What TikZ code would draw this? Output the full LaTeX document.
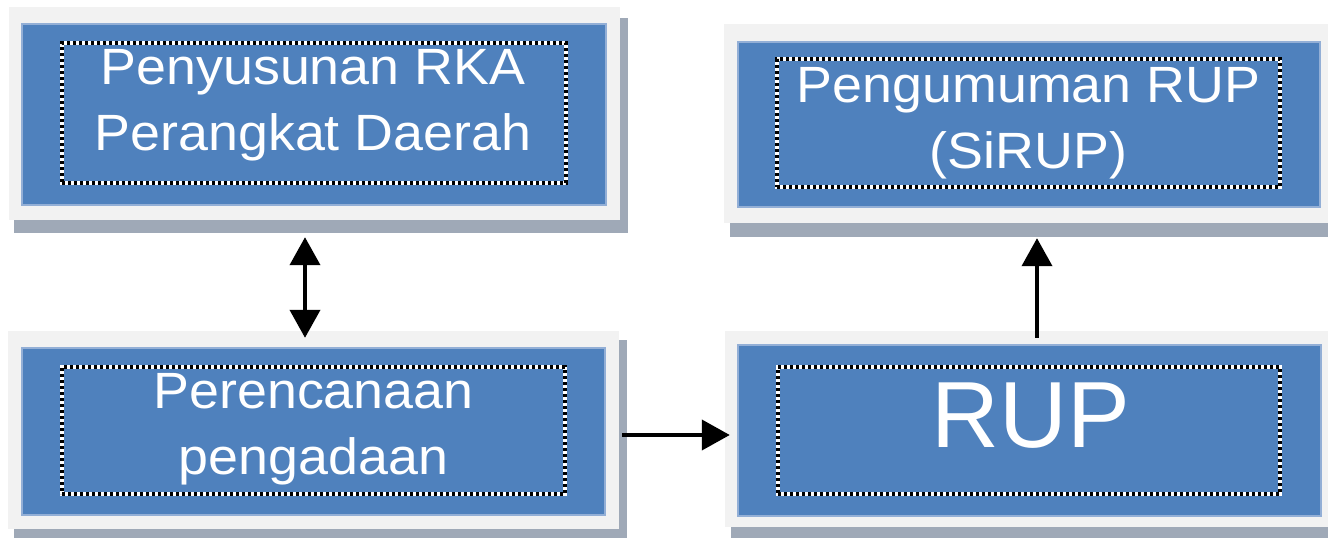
\documentclass[tikz,border=0pt]{standalone}
\usepackage{fontspec}
\setmainfont{Liberation Sans}
\newfontfamily\boxfont[FakeStretch=1.055]{Liberation Sans}
\usetikzlibrary{arrows.meta,calc}
\definecolor{boxblue}{HTML}{4F81BD}
\definecolor{framegray}{HTML}{F2F2F2}
\definecolor{shadowgray}{HTML}{9FA9B7}
\definecolor{blueedge}{HTML}{93AFD6}
\begin{document}
\begin{tikzpicture}[x=1pt,y=-1pt,
  framebox/.style={rectangle, fill=framegray, draw=none, inner sep=0pt},
  bluebox/.style={rectangle, fill=boxblue, draw=blueedge, line width=1.5pt, inner sep=0pt},
  dotbox/.style={rectangle, inner sep=0pt, draw=white, line width=3.5pt,
    postaction={draw=black, line width=3.5pt, dash pattern=on 3pt off 3pt}},
  boxtext/.style={text=white, inner sep=0pt, align=center, font=\boxfont\fontsize{51}{66}\selectfont},
  bigtext/.style={text=white, inner sep=0pt, align=center, font=\fontsize{94}{100}\selectfont},
  conn/.style={line width=4pt, black},
  >={Triangle[length=28pt,width=30pt]}]
\useasboundingbox (0,0) rectangle (1328,538);
\fill[white] (0,0) rectangle (1328,538);
% shadows
\fill[shadowgray] (14,18) rectangle (628,233);
\fill[shadowgray] (730,30) rectangle (1334,237);
\fill[shadowgray] (14,340) rectangle (627,545);
\fill[shadowgray] (731,340) rectangle (1334,545);
% box 1
\node[framebox, minimum width=611pt, minimum height=213pt] (f1) at (314.5,113.5) {};
\node[bluebox, minimum width=584pt, minimum height=181pt] (b1) at (314,114.5) {};
\node[dotbox, minimum width=504pt, minimum height=140pt] (d1) at (314,113) {};
\node[boxtext] (t1) at (313,105.4) {Penyusunan RKA\\Perangkat Daerah};
% box 2
\node[framebox, minimum width=604pt, minimum height=199pt] (f2) at (1026,123.5) {};
\node[bluebox, minimum width=582pt, minimum height=165pt] (b2) at (1029,124.5) {};
\node[dotbox, minimum width=503pt, minimum height=128pt] (d2) at (1028.5,123) {};
\node[boxtext] (t2) at (1028.5,123.4) {Pengumuman RUP\\(SiRUP)};
% box 3
\node[framebox, minimum width=611pt, minimum height=198pt] (f3) at (313.5,430) {};
\node[bluebox, minimum width=583pt, minimum height=167pt] (b3) at (313.5,431.5) {};
\node[dotbox, minimum width=503pt, minimum height=127pt] (d3) at (313.5,430.5) {};
\node[boxtext] (t3) at (313.5,429.6) {Perencanaan\\pengadaan};
% box 4
\node[framebox, minimum width=603pt, minimum height=196pt] (f4) at (1026.5,429) {};
\node[bluebox, minimum width=583pt, minimum height=171pt] (b4) at (1029.5,430.5) {};
\node[dotbox, minimum width=502pt, minimum height=127pt] (d4) at (1029,430.5) {};
\node[bigtext] (t4) at (1031,416) {RUP};
% connectors
\draw[conn,<->] ([xshift=-9.5pt,yshift=-17pt]f1.south) -- ([xshift=-8.5pt,yshift=-7pt]f3.north);
\draw[conn,->] ([xshift=3pt,yshift=-5pt]f3.east) -- ([xshift=5pt,yshift=-6pt]f4.west);
\draw[conn,->] ([xshift=10.5pt,yshift=-7pt]f4.north) -- ([xshift=11pt,yshift=-15pt]f2.south);
\end{tikzpicture}
\end{document}
